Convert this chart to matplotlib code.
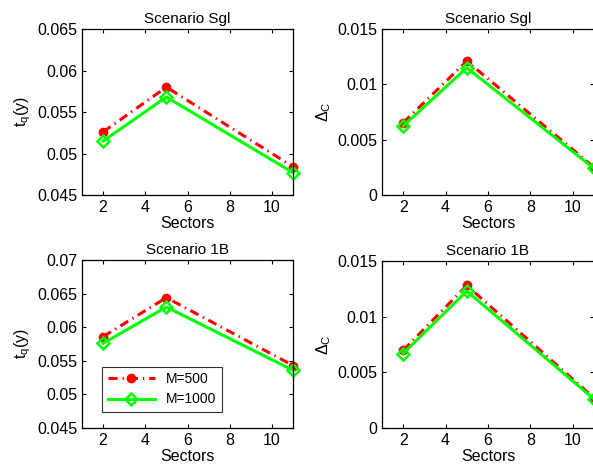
import matplotlib
matplotlib.use("Agg")
import matplotlib.pyplot as plt
from matplotlib.ticker import FixedLocator, FixedFormatter

plt.rcParams['font.family'] = ['Liberation Sans', 'DejaVu Sans']
plt.rcParams['mathtext.fontset'] = 'custom'
plt.rcParams['mathtext.rm'] = 'Liberation Sans'
plt.rcParams['mathtext.it'] = 'Liberation Sans'

sectors = [2, 5, 11]
labels = ["M=500", "M=1000"]

tq_sgl_500 = [0.0526, 0.0580, 0.0484]
tq_sgl_1000 = [0.0515, 0.0568, 0.0477]
dc_sgl_500 = [0.00653, 0.0121, 0.0025]
dc_sgl_1000 = [0.00623, 0.0115, 0.0024]
tq_1b_500 = [0.0586, 0.0644, 0.0543]
tq_1b_1000 = [0.0576, 0.0630, 0.0536]
dc_1b_500 = [0.00698, 0.0128, 0.0027]
dc_1b_1000 = [0.00669, 0.0123, 0.0026]

xticks = [2, 4, 6, 8, 10]
yt_tl = [0.045, 0.05, 0.055, 0.06, 0.065]
yt_tl_lab = ["0.045", "0.05", "0.055", "0.06", "0.065"]
yt_bl = [0.045, 0.05, 0.055, 0.06, 0.065, 0.07]
yt_bl_lab = ["0.045", "0.05", "0.055", "0.06", "0.065", "0.07"]
yt_r = [0, 0.005, 0.01, 0.015]
yt_r_lab = ["0", "0.005", "0.01", "0.015"]

W, H = 593, 466
fig = plt.figure(figsize=(W / 100, H / 100), dpi=100)

def rect(l, t, r, b):
    return [l / W, 1 - b / H, (r - l) / W, (b - t) / H]

panels = [
    (rect(82, 29, 293, 195), tq_sgl_500, tq_sgl_1000, "Scenario Sgl", r"$\mathregular{t_q(y)}$", (0.045, 0.065), yt_tl, yt_tl_lab),
    (rect(382, 29, 594, 195), dc_sgl_500, dc_sgl_1000, "Scenario Sgl", r"$\mathregular{\Delta_C}$", (0, 0.015), yt_r, yt_r_lab),
    (rect(82, 260, 293, 428), tq_1b_500, tq_1b_1000, "Scenario 1B", r"$\mathregular{t_q(y)}$", (0.045, 0.07), yt_bl, yt_bl_lab),
    (rect(382, 261, 594, 428), dc_1b_500, dc_1b_1000, "Scenario 1B", r"$\mathregular{\Delta_C}$", (0, 0.015), yt_r, yt_r_lab),
]

LW = 2.2
axes = []
for pos, a, b, title, ylab, ylim, yt, ytl in panels:
    ax = fig.add_axes(pos)
    ax.plot(sectors, a, color='#ff0000', linestyle=(0, (3.0, 1.6, 0.45, 1.6)), linewidth=LW,
            marker='o', markersize=6, markerfacecolor='#ff0000',
            markeredgecolor='#ff0000', label=labels[0], clip_on=False)
    ax.plot(sectors, b, color='#00ff00', linestyle='-', linewidth=LW,
            marker='D', markersize=6, markerfacecolor='none',
            markeredgecolor='#00ff00', markeredgewidth=1.8, label=labels[1], clip_on=False)
    ax.set_xlim(1, 11)
    ax.set_ylim(*ylim)
    ax.xaxis.set_major_locator(FixedLocator(xticks))
    ax.yaxis.set_major_locator(FixedLocator(yt))
    ax.yaxis.set_major_formatter(FixedFormatter(ytl))
    ax.tick_params(direction='in', top=True, right=True, labelsize=11.5, length=3, width=0.8)
    ax.set_title(title, fontsize=11, pad=4)
    ax.set_xlabel("Sectors", fontsize=11.5, labelpad=1)
    ax.set_ylabel(ylab, fontsize=11.5, labelpad=3)
    for s in ax.spines.values():
        s.set_linewidth(0.9)
    axes.append(ax)

leg = axes[2].legend(loc='lower left', bbox_to_anchor=(0.095, 0.095), fontsize=10,
                     frameon=True, fancybox=False, edgecolor='black', borderaxespad=0,
                     handlelength=3.4, borderpad=0.4, labelspacing=0.45)
leg.get_frame().set_linewidth(0.8)

fig.savefig("out.png", dpi=100)
